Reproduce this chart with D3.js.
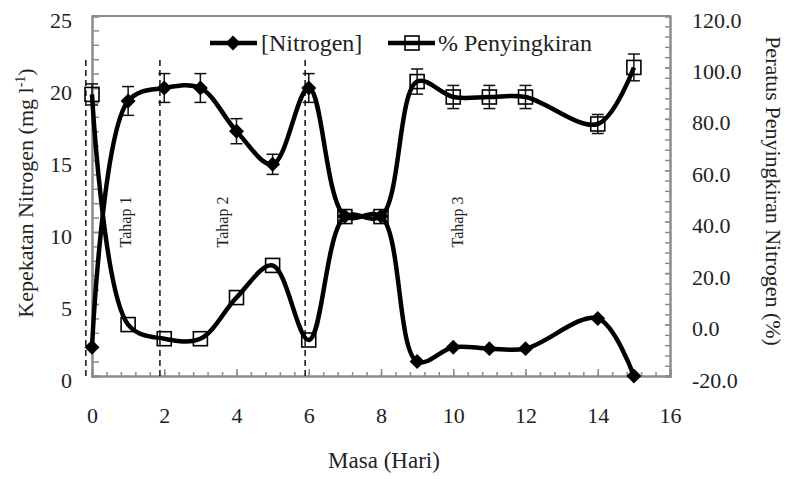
<!DOCTYPE html>
<html>
<head>
<meta charset="UTF-8">
<title>Nitrogen</title>
<script src="https://cdn.jsdelivr.net/npm/d3@7"></script>
<style>
  body { margin: 0; background: #fff; }
  text, tspan { font-family: "Liberation Serif" !important; }
</style>
</head>
<body>
<script>
// data
const days = [0, 1, 2, 3, 4, 5, 6, 7, 8, 9, 10, 11, 12, 14, 15];
const nitrogen = [2.0, 19.1, 20.0, 20.0, 17.0, 14.7, 20.0, 11.1, 11.1, 1.0, 2.0, 1.9, 1.9, 4.0, 0.0];
const nitrogenErr = [0, 1.0, 1.0, 1.0, 0.87, 0.7, 1.0, 0, 0, 0, 0, 0, 0, 0, 0];
const removal = [89.5, 0.0, -5.5, -5.5, 10.5, 23.0, -6.0, 42.0, 42.0, 94.5, 88.5, 88.5, 88.5, 78.0, 100.0];
const removalErr = [4.1, 0, 0, 0, 0, 0, 0, 0, 0, 4.9, 4.5, 4.5, 4.5, 3.7, 5.2];
const phaseLines = [-0.17, 1.88, 5.9];
const phaseLabels = ["Tahap 1", "Tahap 2", "Tahap 3"];
const phaseLabelX = [0.92, 3.6, 10.1];

const W = 785, H = 479;
const svg = d3.select("body").append("svg").attr("width", W).attr("height", H);

const x = d3.scaleLinear().domain([0, 16]).range([92, 670]);
const yL = d3.scaleLinear().domain([0, 25]).range([376, 16]);
const yR = d3.scaleLinear().domain([-20, 120]).range([376, 16]);

const grey = "#8c8c8c";

// frame (top border)
svg.append("line").attr("x1", x(0)).attr("x2", x(16)).attr("y1", yL(25)).attr("y2", yL(25))
  .attr("stroke", grey).attr("stroke-width", 2);

function styleAxis(g) {
  g.attr("font-family", null).attr("font-size", null);
  g.select(".domain").attr("stroke", grey).attr("stroke-width", 2);
  g.selectAll(".tick line").attr("stroke", grey).attr("stroke-width", 1.5);
  g.selectAll("text").attr("font-size", 22);
}

// minor ticks
svg.append("g").attr("transform", `translate(0,376)`)
  .call(d3.axisBottom(x).tickValues(d3.range(0, 16.01, 0.4)).tickSize(-4).tickFormat(""))
  .call(styleAxis);
svg.append("g").attr("transform", `translate(92,0)`)
  .call(d3.axisLeft(yL).tickValues(d3.range(0, 26, 1)).tickSize(-7).tickFormat(""))
  .call(styleAxis);
svg.append("g").attr("transform", `translate(670,0)`)
  .call(d3.axisRight(yR).tickValues(d3.range(-20, 121, 4)).tickSize(-5).tickFormat(""))
  .call(styleAxis);

// major ticks with labels
svg.append("g").attr("transform", `translate(0,376)`)
  .call(d3.axisBottom(x).tickValues(d3.range(0, 17, 2)).tickSize(-7).tickPadding(31))
  .call(styleAxis);
const gl = svg.append("g").attr("transform", `translate(92,0)`)
  .call(d3.axisLeft(yL).tickValues([0, 5, 10, 15, 20, 25]).tickSize(-7).tickPadding(20))
  .call(styleAxis);
gl.selectAll("text").attr("dy", "0.5em");
const gr = svg.append("g").attr("transform", `translate(670,0)`)
  .call(d3.axisRight(yR).tickValues(d3.range(-20, 121, 20)).tickSize(-5).tickPadding(22)
    .tickFormat(d => d.toFixed(1)))
  .call(styleAxis);
gr.selectAll("text").attr("dy", "0.5em");

// axis titles
const lt = svg.append("text")
  .attr("transform", `translate(33,193) rotate(-90)`)
  .attr("text-anchor", "middle").attr("font-size", 22);
lt.append("tspan").text("Kepekatan Nitrogen (mg l");
lt.append("tspan").attr("font-size", 14).attr("dy", -8).text("-1");
lt.append("tspan").attr("dy", 8).text(")");

svg.append("text")
  .attr("transform", `translate(766,191) rotate(90)`)
  .attr("text-anchor", "middle").attr("font-size", 22)
  .text("Peratus Penyingkiran Nitrogen (%)");

svg.append("text").attr("x", 384).attr("y", 468)
  .attr("text-anchor", "middle").attr("font-size", 23).text("Masa (Hari)");

// phase separators
svg.selectAll(".phase").data(phaseLines).join("line")
  .attr("class", "phase")
  .attr("x1", d => x(d)).attr("x2", d => x(d))
  .attr("y1", 60).attr("y2", 380)
  .attr("stroke", "#111").attr("stroke-width", 1.5).attr("stroke-dasharray", "6,4");

svg.selectAll(".phase-label").data(phaseLabels).join("text")
  .attr("class", "phase-label")
  .attr("transform", (d, i) => `translate(${x(phaseLabelX[i]) + 6},222) rotate(-90)`)
  .attr("text-anchor", "middle").attr("font-size", 16).text(d => d);

const rows = days.map((d, i) => ({
  day: d, n: nitrogen[i], nErr: nitrogenErr[i], r: removal[i], rErr: removalErr[i]
}));

// error bars
function errorBars(key, errKey, y) {
  const data = rows.filter(d => d[errKey] > 0);
  const g = svg.append("g").attr("stroke", "#111").attr("stroke-width", 1.5);
  g.selectAll(".v").data(data).join("line")
    .attr("x1", d => x(d.day)).attr("x2", d => x(d.day))
    .attr("y1", d => y(d[key] - d[errKey])).attr("y2", d => y(d[key] + d[errKey]));
  [-1, 1].forEach(s => {
    g.selectAll(".c" + s).data(data).join("line")
      .attr("x1", d => x(d.day) - 6).attr("x2", d => x(d.day) + 6)
      .attr("y1", d => y(d[key] + s * d[errKey])).attr("y2", d => y(d[key] + s * d[errKey]));
  });
}
errorBars("n", "nErr", yL);
errorBars("r", "rErr", yR);

// smoothed lines
const curve = d3.curveCatmullRom.alpha(0.5);
const lineN = d3.line().x(d => x(d.day)).y(d => yL(d.n)).curve(curve);
const lineR = d3.line().x(d => x(d.day)).y(d => yR(d.r)).curve(curve);

svg.append("path").datum(rows).attr("d", lineR)
  .attr("fill", "none").attr("stroke", "#000").attr("stroke-width", 4.5).attr("stroke-linejoin", "round");
svg.append("path").datum(rows).attr("d", lineN)
  .attr("fill", "none").attr("stroke", "#000").attr("stroke-width", 4.5).attr("stroke-linejoin", "round");

const diamond = d3.symbol().type(d3.symbolSquare).size(112);

svg.selectAll(".sq").data(rows).join("rect")
  .attr("class", "sq")
  .attr("x", d => x(d.day) - 7).attr("y", d => yR(d.r) - 7)
  .attr("width", 14).attr("height", 14)
  .attr("fill", "none").attr("stroke", "#000").attr("stroke-width", 1.6);

svg.selectAll(".dm").data(rows).join("path")
  .attr("class", "dm")
  .attr("d", diamond)
  .attr("transform", d => `translate(${x(d.day)},${yL(d.n)}) rotate(45)`)
  .attr("fill", "#000");

// legend
const lg = svg.append("g");
lg.append("line").attr("x1", 210).attr("x2", 257).attr("y1", 43).attr("y2", 43)
  .attr("stroke", "#000").attr("stroke-width", 4.5);
lg.append("path").attr("d", diamond).attr("transform", "translate(233,43) rotate(45)").attr("fill", "#000");
lg.append("text").attr("x", 261).attr("y", 51).attr("font-size", 24).text("[Nitrogen]");

lg.append("line").attr("x1", 388).attr("x2", 435).attr("y1", 43).attr("y2", 43)
  .attr("stroke", "#000").attr("stroke-width", 4.5);
lg.append("rect").attr("x", 405).attr("y", 36).attr("width", 14).attr("height", 14)
  .attr("fill", "none").attr("stroke", "#000").attr("stroke-width", 1.6);
lg.append("text").attr("x", 438).attr("y", 51).attr("font-size", 24).text("% Penyingkiran");

svg.selectAll("text").attr("fill", "#222");
</script>
</body>
</html>
